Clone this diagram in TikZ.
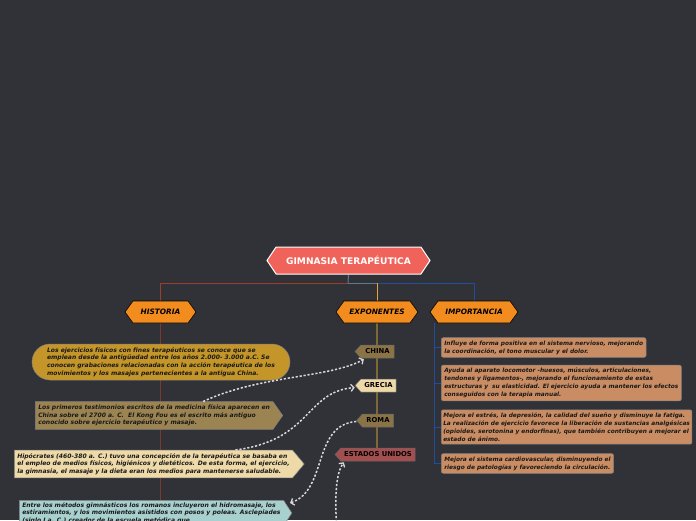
\documentclass[tikz,border=0pt]{standalone}
\usepackage{fontspec}
\setmainfont{DejaVu Sans}
\usetikzlibrary{shapes.symbols,arrows.meta,backgrounds}

\definecolor{fondo}{RGB}{49,50,56}
\definecolor{salmon}{RGB}{240,99,90}
\definecolor{naranja}{RGB}{243,140,30}
\definecolor{oro}{RGB}{196,150,42}
\definecolor{tierra}{RGB}{156,132,82}
\definecolor{crema}{RGB}{238,217,168}
\definecolor{agua}{RGB}{168,208,207}
\definecolor{marron}{RGB}{138,115,70}
\definecolor{granate}{RGB}{164,79,79}
\definecolor{canela}{RGB}{201,140,99}
\definecolor{rojolinea}{RGB}{155,63,44}
\definecolor{rojovert}{RGB}{122,58,48}
\definecolor{grisazul}{RGB}{94,122,142}
\definecolor{azul}{RGB}{31,78,156}
\definecolor{ambar}{RGB}{232,163,58}
\definecolor{pardo}{RGB}{125,104,56}

\newcommand{\caja}{\fontsize{6.05}{7.7}\selectfont\bfseries\itshape}
\newcommand{\cajita}{\fontsize{5.85}{7.9}\selectfont\bfseries\itshape}

\tikzset{
  titulo/.style={shape=signal, signal to=west and east, signal pointer angle=112,
    fill=salmon, draw=white, line width=1pt, text=white, inner sep=0pt,
    minimum width=163pt, minimum height=27pt, font=\fontsize{9.1}{10}\selectfont\bfseries},
  cabecera/.style={shape=signal, signal to=west and east, signal pointer angle=108,
    fill=naranja, draw=black, line width=0.6pt, inner sep=0pt, minimum height=22pt,
    font=\fontsize{7.4}{8}\selectfont\bfseries\itshape},
  etiqueta/.style={shape=signal, signal to=west, signal pointer angle=96,
    draw=black!60, line width=0.5pt, inner sep=0pt, minimum height=13pt,
    font=\fontsize{6.8}{7}\selectfont\bfseries},
  historial/.style={draw=black!50, line width=0.5pt, align=left, font=\caja,
    inner sep=3pt, text=black!90},
  flecha/.style={historial, shape=signal, signal to=east},
  importe/.style={historial, fill=canela, rounded corners=2pt, anchor=west, font=\cajita},
  relacion/.style={draw=white!85!black, line width=1.5pt, dash pattern=on 2.2pt off 1.8pt},
  punta/.style={-{Straight Barb[length=3pt,width=7pt,line width=1.3pt]}},
}

\pgfdeclarelayer{fondo}
\pgfsetlayers{fondo,background,main}

\begin{document}
\begin{tikzpicture}[x=1pt,y=-1pt]
  \begin{pgfonlayer}{fondo}
    \fill[fondo] (0,0) rectangle (696,520);
  \end{pgfonlayer}
  \useasboundingbox (0,0) rectangle (696,520);
  \clip (0,0) rectangle (696,520);

  % titulo y cabeceras
  \node[titulo] (gimnasia) at (348.5,260.5) {GIMNASIA TERAPÉUTICA};
  \node[cabecera, minimum width=71pt] (historia) at (160.5,312) {HISTORIA};
  \node[cabecera, minimum width=82pt] (exponentes) at (377,312) {EXPONENTES};
  \node[cabecera, minimum width=88pt] (importancia) at (474,312) {IMPORTANCIA};

  \coordinate (cruce) at (348,283);
  \coordinate (cruce2) at (377,283);

  % historia
  \node[historial, fill=oro, rounded corners=18pt, minimum width=258pt, minimum height=36pt,
    inner xsep=14pt] (antiguedad) at (161,362)
    {Los ejercicios físicos con fines terapéuticos se conoce que se\\
     emplean desde la antigüedad entre los años 2.000- 3.000 a.C. Se\\
     conocen grabaciones relacionadas con la acción terapéutica de los\\
     movimientos y los masajes pertenecientes a la antigua China.};
  \node[flecha, fill=tierra, signal pointer angle=110, anchor=west] (testimonios) at (35,415.5)
    {Los primeros testimonios escritos de la medicina física aparecen en\\
     China sobre el 2700 a. C.\ \ El Kong Fou es el escrito más antiguo\\
     conocido sobre ejercicio terapéutico y masaje.};
  \node[flecha, fill=crema, signal pointer angle=100, anchor=west] (hipocrates) at (14,464)
    {Hipócrates (460-380 a. C.) tuvo una concepción de la terapéutica se basaba en\\
     el empleo de medios físicos, higiénicos y dietéticos. De esta forma, el ejercicio,\\
     la gimnasia, el masaje y la dieta eran los medios para mantenerse saludable.};
  \node[flecha, fill=agua, signal pointer angle=114, anchor=north west,
    inner ysep=2pt] (romanos) at (19,500)
    {Entre los métodos gimnásticos los romanos incluyeron el hidromasaje, los\\
     estiramientos, y los movimientos asistidos con posos y poleas. Asclepiades\\
     (siglo I a. C.) creador de la escuela metódica que};

  % exponentes
  \node[etiqueta, fill=marron, minimum width=39pt] (china) at (377.5,351.5) {CHINA};
  \node[etiqueta, fill=crema, minimum width=41pt] (grecia) at (378.5,385.5) {GRECIA};
  \node[etiqueta, fill=marron, minimum width=37pt] (roma) at (378,420.5) {ROMA};
  \node[etiqueta, fill=granate, minimum width=80pt] (eeuu) at (378,454.5) {ESTADOS UNIDOS};

  % importancia
  \node[importe] (nervioso) at (441,347.5)
    {Influye de forma positiva en el sistema nervioso, mejorando\\
     la coordinación, el tono muscular y el dolor.};
  \node[importe] (locomotor) at (441,383)
    {Ayuda al aparato locomotor -huesos, músculos, articulaciones,\\
     tendones y ligamentos-, mejorando el funcionamiento de estas\\
     estructuras y\ \ su elasticidad. El ejercicio ayuda a mantener los efectos\\
     conseguidos con la terapia manual.};
  \node[importe, inner xsep=2pt] (animo) at (441,427)
    {Mejora el estrés, la depresión, la calidad del sueño y disminuye la fatiga.\\
     La realización de ejercicio favorece la liberación de sustancias analgésicas\\
     (opioides, serotonina y endorfinas), que también contribuyen a mejorar el\\
     estado de ánimo.};
  \node[importe] (cardio) at (441,463.5)
    {Mejora el sistema cardiovascular, disminuyendo el\\
     riesgo de patologías y favoreciendo la circulación.};

  \coordinate (hfin) at (160.5,530);
  \coordinate (ibase) at (434,323);
  \coordinate (efin) at (337,530);

  % lineas
  \begin{pgfonlayer}{background}
    \draw[grisazul, line width=1pt] (gimnasia.south) -- (cruce);
    \draw[rojolinea, line width=1pt] (cruce) -| (historia.north);
    \draw[grisazul, line width=1pt] (cruce) -- (cruce2);
    \draw[azul, line width=1pt] (cruce2) -| (importancia.north);
    \draw[ambar, line width=1pt] (cruce2) -- (exponentes.north);
    \draw[rojovert, line width=1pt] (historia.south) -- (hfin);
    \draw[pardo, line width=1.5pt] (exponentes.south) -- (eeuu.north -| exponentes.south);
    \draw[azul, line width=1pt] (ibase) |- (cardio.west);
    \foreach \n in {nervioso,locomotor,animo}
      \draw[azul, line width=1pt] (ibase |- \n.west) -- (\n.west);
  \end{pgfonlayer}

  % relaciones
  \draw[relacion, punta] ([xshift=49pt]testimonios.north) .. controls (260,375) and (330,378) .. ([xshift=3pt,yshift=-1pt]china.south west);
  \draw[relacion, punta] ([xshift=82pt]hipocrates.north) .. controls (312,440) and (305,392) .. ([yshift=-2pt]grecia.west);
  \draw[relacion, punta, {Straight Barb[length=3pt,width=7pt,line width=1.3pt]}-] (290,503) .. controls (328,490) and (312,425) .. ([yshift=-1pt]roma.west);
  \draw[relacion, punta] (efin) .. controls (333,480) and (340,468) .. ([xshift=3pt,yshift=-1pt]eeuu.south west);
\end{tikzpicture}
\end{document}
